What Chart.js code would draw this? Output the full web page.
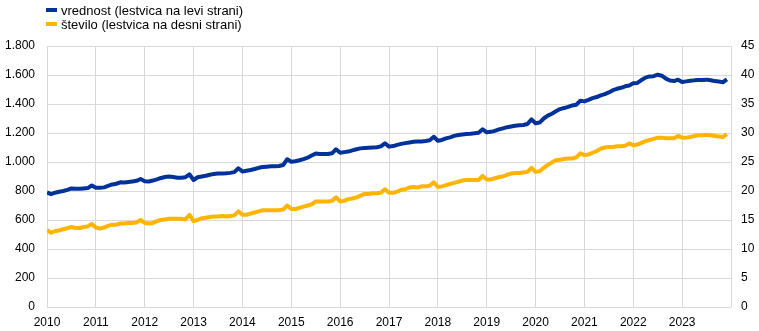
<!DOCTYPE html>
<html lang="sl">
<head>
<meta charset="utf-8">
<title>Vrednost in število</title>
<script src="https://cdn.jsdelivr.net/npm/chart.js@4/dist/chart.umd.min.js"></script>
<style>
  html, body { margin: 0; padding: 0; background: #fff; }
  #wrap { position: relative; width: 759px; height: 331px; }
  #legend { position: absolute; left: 46px; top: 3px; font: 13px Arial, "Liberation Sans", sans-serif; color: #000; }
  .item { display: flex; align-items: center; height: 14px; }
  .swatch { width: 11px; height: 4px; margin-right: 4px; }
</style>
</head>
<body>
<div id="wrap">
  <canvas id="chart" width="759" height="331"></canvas>
  <div id="legend"></div>
</div>
<script>
// Monthly series, January 2010 to December 2023
const years = [2010, 2011, 2012, 2013, 2014, 2015, 2016, 2017, 2018, 2019, 2020, 2021, 2022, 2023];

// vrednost (left axis)
const vrednost = [
  790, 778, 788, 795, 800, 808, 818, 815, 815, 818, 820, 838,
  822, 822, 825, 835, 845, 850, 860, 858, 862, 866, 870, 883,
  868, 866, 872, 880, 890, 896, 900, 896, 892, 892, 895, 915,
  876, 895, 900, 905, 912, 918, 920, 920, 922, 925, 930, 957,
  935, 940, 945, 952, 960, 965, 968, 970, 970, 972, 979, 1019,
  1002, 1005, 1012, 1020, 1030, 1045, 1058, 1055, 1055, 1055, 1060, 1088,
  1064, 1068, 1072, 1080, 1088, 1094, 1096, 1098, 1100, 1102, 1108, 1129,
  1106, 1110, 1118, 1125, 1130, 1135, 1140, 1141, 1142, 1145, 1150, 1174,
  1147, 1152, 1163, 1170, 1180, 1186, 1190, 1193, 1195, 1198, 1202, 1226,
  1205, 1208, 1215, 1225, 1232, 1240, 1245, 1250, 1253, 1255, 1262, 1294,
  1267, 1272, 1300, 1320, 1333, 1350, 1365, 1372, 1380, 1390, 1395, 1423,
  1418, 1428, 1440, 1448, 1460, 1468, 1480, 1495, 1505, 1512, 1522, 1528,
  1543, 1545, 1565, 1582, 1590, 1592, 1602, 1595, 1575, 1562, 1558, 1568,
  1552, 1556, 1560, 1563, 1565, 1565, 1568, 1564, 1558, 1555, 1550, 1570
];

// število (right axis)
const stevilo = [
  13.3, 12.8, 13.1, 13.2, 13.4, 13.6, 13.8, 13.6, 13.6, 13.8, 13.9, 14.3,
  13.7, 13.5, 13.7, 14.0, 14.2, 14.2, 14.4, 14.4, 14.5, 14.5, 14.6, 15.0,
  14.5, 14.4, 14.5, 14.8, 15.0, 15.1, 15.2, 15.2, 15.2, 15.2, 15.1, 15.9,
  14.8, 15.0, 15.3, 15.4, 15.5, 15.6, 15.6, 15.7, 15.6, 15.7, 15.8, 16.5,
  15.9, 15.9, 16.1, 16.3, 16.5, 16.7, 16.7, 16.7, 16.7, 16.7, 16.8, 17.5,
  16.9, 16.9, 17.1, 17.3, 17.5, 17.7, 18.2, 18.2, 18.2, 18.2, 18.3, 18.9,
  18.2, 18.3, 18.6, 18.7, 18.9, 19.2, 19.5, 19.5, 19.6, 19.6, 19.7, 20.3,
  19.7, 19.7, 19.9, 20.2, 20.3, 20.6, 20.7, 20.6, 20.8, 20.8, 20.9, 21.5,
  20.7, 20.8, 21.0, 21.2, 21.4, 21.6, 21.8, 21.9, 21.9, 21.9, 21.9, 22.6,
  22.0, 22.0, 22.2, 22.4, 22.5, 22.8, 23.0, 23.1, 23.1, 23.2, 23.3, 24.0,
  23.3, 23.4, 24.0, 24.5, 24.9, 25.3, 25.4, 25.5, 25.6, 25.6, 25.8, 26.5,
  26.2, 26.3, 26.6, 26.9, 27.3, 27.5, 27.6, 27.6, 27.7, 27.7, 27.8, 28.2,
  27.9, 28.0, 28.3, 28.6, 28.8, 29.0, 29.2, 29.2, 29.1, 29.1, 29.1, 29.5,
  29.2, 29.2, 29.3, 29.5, 29.6, 29.6, 29.7, 29.6, 29.5, 29.4, 29.3, 29.8
];

const leftTicks = [0, 200, 400, 600, 800, 1000, 1200, 1400, 1600, 1800];
const rightTicks = [0, 5, 10, 15, 20, 25, 30, 35, 40, 45];

const seriesNames = ['vrednost (lestvica na levi strani)', 'število (lestvica na desni strani)'];
const seriesColors = ['#003299', '#FFB400'];

// Month index -> position on a year-based linear axis
function toPoints(values) {
  return values.map((v, i) => ({ x: years[0] + i / 12, y: v }));
}

function thousands(v) {
  return String(v).replace(/\B(?=(\d{3})+(?!\d))/g, '.');
}

// HTML legend, two rows
const legendEl = document.getElementById('legend');
seriesNames.forEach((name, i) => {
  const row = document.createElement('div');
  row.className = 'item';
  const sw = document.createElement('span');
  sw.className = 'swatch';
  sw.style.background = seriesColors[i];
  const tx = document.createElement('span');
  tx.textContent = name;
  row.appendChild(sw);
  row.appendChild(tx);
  legendEl.appendChild(row);
});

const font = { family: 'Arial, "Liberation Sans", sans-serif', size: 12 };
const gridColor = '#d9d9d9';

new Chart(document.getElementById('chart'), {
  type: 'line',
  data: {
    datasets: [
      {
        label: seriesNames[0],
        data: toPoints(vrednost),
        yAxisID: 'y',
        borderColor: seriesColors[0],
        backgroundColor: seriesColors[0],
        borderWidth: 4,
        pointRadius: 0,
        tension: 0,
        borderJoinStyle: 'round'
      },
      {
        label: seriesNames[1],
        data: toPoints(stevilo),
        yAxisID: 'y1',
        borderColor: seriesColors[1],
        backgroundColor: seriesColors[1],
        borderWidth: 4,
        pointRadius: 0,
        tension: 0,
        borderJoinStyle: 'round'
      }
    ]
  },
  options: {
    responsive: false,
    animation: false,
    layout: { padding: { top: 46, left: 0, right: 0, bottom: 0 } },
    plugins: {
      legend: { display: false },
      tooltip: { enabled: false }
    },
    scales: {
      x: {
        type: 'linear',
        min: years[0],
        max: years[years.length - 1] + 1,
        afterFit: s => { s.height = 24; },
        afterBuildTicks: s => {
          s.ticks = years.concat([years[years.length - 1] + 1]).map(v => ({ value: v }));
        },
        ticks: {
          font, color: '#000', padding: 8, maxRotation: 0, autoSkip: false,
          callback: v => (years.includes(v) ? String(v) : '')
        },
        grid: { color: gridColor, lineWidth: 1, drawTicks: false },
        border: { display: false }
      },
      y: {
        position: 'left',
        min: 0,
        max: 1800,
        afterFit: s => { s.width = 47; },
        afterBuildTicks: s => { s.ticks = leftTicks.map(v => ({ value: v })); },
        ticks: { font, color: '#000', padding: 12, callback: v => thousands(v) },
        grid: { color: gridColor, lineWidth: 1, drawTicks: false },
        border: { display: false }
      },
      y1: {
        position: 'right',
        min: 0,
        max: 45,
        afterFit: s => { s.width = 28; },
        afterBuildTicks: s => { s.ticks = rightTicks.map(v => ({ value: v })); },
        ticks: { font, color: '#000', padding: 10, callback: v => String(v) },
        grid: { drawOnChartArea: false, drawTicks: false },
        border: { display: false }
      }
    }
  }
});
</script>
</body>
</html>
